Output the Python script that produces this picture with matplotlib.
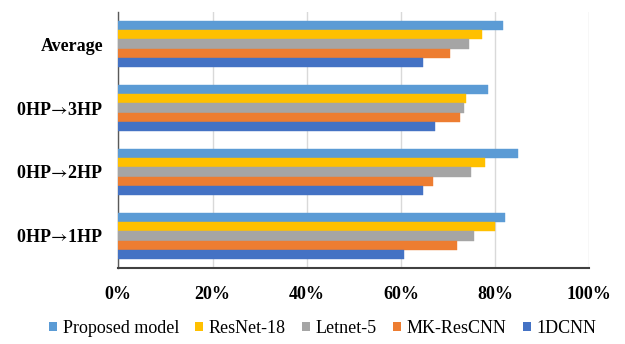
import matplotlib
matplotlib.use("Agg")
import matplotlib.pyplot as plt
from matplotlib.patches import Patch
import numpy as np

plt.rcParams['font.family'] = ['Liberation Serif', 'DejaVu Serif']
plt.rcParams['mathtext.fontset'] = 'stix'

categories = ["0HP$\\!\\rightarrow\\!$1HP", "0HP$\\!\\rightarrow\\!$2HP",
              "0HP$\\!\\rightarrow\\!$3HP", "Average"]
models = ["Proposed model", "ResNet-18", "Letnet-5", "MK-ResCNN", "1DCNN"]
colors = ["#5B9BD5", "#FFC000", "#A5A5A5", "#ED7D31", "#4472C4"]

# accuracy (%) per model, in category order
proposed = [82.0, 84.9, 78.4, 81.7]
resnet18 = [80.0, 77.9, 73.8, 77.3]
letnet5 = [75.5, 74.8, 73.3, 74.5]
mk_rescnn = [71.9, 66.8, 72.6, 70.4]
cnn1d = [60.6, 64.6, 67.2, 64.6]
series = [proposed, resnet18, letnet5, mk_rescnn, cnn1d]

xticks = [0, 20, 40, 60, 80, 100]
xtick_labels = ["0%", "20%", "40%", "60%", "80%", "100%"]

fig = plt.figure(figsize=(6.25, 3.44), dpi=100)
ax = fig.add_axes([0.1893, 0.221, 0.943 - 0.1893, 0.965 - 0.221])

y = np.arange(len(categories))
h = 0.144
for i, (vals, c) in enumerate(zip(series, colors)):
    offset = (2 - i) * h
    ax.barh(y + offset, vals, height=h, color=c, edgecolor=c, linewidth=0.3, zorder=3)

ax.set_xlim(0, 100)
ax.set_ylim(-0.5, 3.5)
ax.set_xticks(xticks)
ax.set_xticklabels(xtick_labels, fontsize=13, fontweight='bold')
ax.set_yticks(y)
ax.set_yticklabels(categories, fontsize=13, fontweight='bold')
ax.tick_params(axis='x', length=0, pad=13)
ax.tick_params(axis='y', length=0, pad=11)

ax.grid(axis='x', color='#D9D9D9', linewidth=1.0, zorder=0)
for s in ['top', 'right']:
    ax.spines[s].set_visible(False)
ax.spines['left'].set_color('#595959')
ax.spines['left'].set_linewidth(1.0)
ax.spines['bottom'].set_color('#404040')
ax.spines['bottom'].set_linewidth(1.5)

handles = [Patch(facecolor=c, edgecolor='none', label=m) for m, c in zip(models, colors)]
fig.legend(handles=handles, loc='center', bbox_to_anchor=(0.516, 0.045), ncol=5,
           frameon=False, fontsize=13, handlelength=0.45, handleheight=0.45,
           handletextpad=0.3, columnspacing=0.9, borderaxespad=0)

fig.savefig("out.png", dpi=100)
